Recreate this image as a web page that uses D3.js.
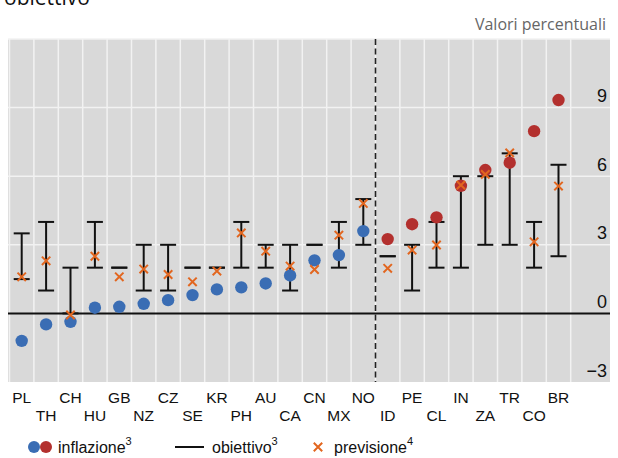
<!DOCTYPE html>
<html><head><meta charset="utf-8">
<script src="https://cdn.jsdelivr.net/npm/d3@7"></script>
<style>body{margin:0;background:#fff}svg{display:block}</style>
</head><body>
<svg id="c" width="618" height="458"></svg>
<script>
const categories = ["PL","TH","CH","HU","GB","NZ","CZ","SE","KR","PH","AU","CA","CN","MX","NO","ID","PE","CL","IN","ZA","TR","CO","BR"];
const advancedCount = 15; // first 15 in blue, rest in red
const inflation = [-1.2,-0.48,-0.37,0.25,0.29,0.42,0.58,0.8,1.05,1.14,1.31,1.66,2.32,2.55,3.6,3.25,3.9,4.2,5.58,6.27,6.59,7.97,9.33];
const targetLow  = [1.5,1,0,2,2,1,1,2,2,2,2,1,3,2,3,2.5,1,2,2,3,3,2,2.5];
const targetHigh = [3.5,4,2,4,2,3,3,2,2,4,3,3,3,4,5,2.5,3,4,6,6,7,4,6.5];
const forecast = [1.6,2.3,-0.07,2.5,1.6,1.94,1.7,1.38,1.85,3.52,2.72,2.07,1.92,3.42,4.81,1.97,2.77,2.99,5.61,6.08,7.02,3.13,5.57];
const yTicks = [-3,0,3,6,9];

(function(){
const svg = d3.select("#c");
const pL = 8, pR = 610, pT = 39, pB = 382;
const slots = categories.concat(["_pad"]);
const x = d3.scaleBand().domain(slots).range([9.5, 9.5 + 24*24.4]).paddingInner(0).paddingOuter(0);
const y = d3.scaleLinear().domain([-3, 12]).range([pB, pT]);
const lf = "Liberation Sans, Arial, sans-serif";

// title remnant (cut off at the top, as in the reference)
svg.append("text").attr("x",4).attr("y",5).attr("font-family","Open Sans, sans-serif")
  .attr("font-size",21).attr("fill","#111").text("obiettivo");
svg.append("text").attr("x",606).attr("y",30).attr("text-anchor","end")
  .attr("font-family","Open Sans, sans-serif").attr("font-size",16).attr("fill","#666").text("Valori percentuali");

// background
svg.append("rect").attr("x",pL).attr("y",pT).attr("width",pR-pL).attr("height",pB-pT).attr("fill","#d9d9d9");
// horizontal grid
[3,6,9,12].forEach(v=>{
  svg.append("line").attr("x1",pL).attr("x2",pR).attr("y1",y(v)).attr("y2",y(v)).attr("stroke","#f2f2f2").attr("stroke-width",1.5);
});
// vertical grid at slot boundaries
slots.forEach((c,i)=>{
  svg.append("line").attr("x1",x(c)).attr("x2",x(c)).attr("y1",pT).attr("y2",pB).attr("stroke","#f2f2f2").attr("stroke-width",1.5);
});
// zero line
svg.append("line").attr("x1",pL).attr("x2",pR).attr("y1",y(0)).attr("y2",y(0)).attr("stroke","#111").attr("stroke-width",2);
// dashed separator
const sepX = x(categories[advancedCount]);
svg.append("line").attr("x1",sepX).attr("x2",sepX).attr("y1",pT).attr("y2",pB)
  .attr("stroke","#222").attr("stroke-width",1.6).attr("stroke-dasharray","6,3.5");

// y tick labels
const yAxis = d3.axisRight(y).tickValues(yTicks).tickSize(0).tickFormat(d=> d<0 ? "\u2212"+Math.abs(d) : d);
const ya = svg.append("g").attr("transform",`translate(${pR-3},0)`).call(yAxis);
ya.select(".domain").remove();
ya.selectAll("text").attr("text-anchor","end").attr("dy",-6).attr("x",0)
  .attr("font-family",lf).attr("font-size",18).attr("fill","#111");

// x labels
const xAxis = d3.axisBottom(x).tickValues(categories).tickSize(0);
const xa = svg.append("g").attr("transform",`translate(0,${pB})`).call(xAxis);
xa.select(".domain").remove();
xa.selectAll("text").attr("y",(d,i)=> i%2===0 ? 21 : 39).attr("dy",0)
  .attr("font-family",lf).attr("font-size",15.5).attr("fill","#111");

const bw = x.bandwidth();
const cx = c => x(c) + bw/2;
// error bars (targets)
const g = svg.append("g");
categories.forEach((c,i)=>{
  const lo = targetLow[i], hi = targetHigh[i];
  if (hi !== lo) g.append("line").attr("x1",cx(c)).attr("x2",cx(c)).attr("y1",y(lo)).attr("y2",y(hi)).attr("stroke","#111").attr("stroke-width",2);
  [lo,hi].forEach(v=>{
    g.append("line").attr("x1",cx(c)-8).attr("x2",cx(c)+8).attr("y1",y(v)).attr("y2",y(v)).attr("stroke","#111").attr("stroke-width",2);
  });
});
// inflation dots
svg.append("g").selectAll("circle").data(categories).join("circle")
  .attr("cx",c=>cx(c)).attr("cy",(c,i)=>y(inflation[i])).attr("r",6.2)
  .attr("fill",(c,i)=> i<advancedCount ? "#3a6db4" : "#b3302e");
// forecast crosses
const s = 4.2;
const fx = svg.append("g").attr("stroke","#e2661f").attr("stroke-width",2);
categories.forEach((c,i)=>{
  const px = cx(c), py = y(forecast[i]);
  fx.append("path").attr("d",`M${px-s},${py-s}L${px+s},${py+s}M${px-s},${py+s}L${px+s},${py-s}`);
});

// legend
const ly = 447;
svg.append("circle").attr("cx",34).attr("cy",ly).attr("r",6).attr("fill","#3a6db4");
svg.append("circle").attr("cx",46).attr("cy",ly).attr("r",6).attr("fill","#b3302e");
const t1 = svg.append("text").attr("x",58).attr("y",ly+6).attr("font-family",lf).attr("font-size",16).attr("fill","#111");
t1.append("tspan").text("inflazione");
t1.append("tspan").attr("dy",-8).attr("font-size",11).text("3");
svg.append("line").attr("x1",175).attr("x2",204).attr("y1",ly).attr("y2",ly).attr("stroke","#111").attr("stroke-width",2);
const t2 = svg.append("text").attr("x",212).attr("y",ly+6).attr("font-family",lf).attr("font-size",16).attr("fill","#111");
t2.append("tspan").text("obiettivo");
t2.append("tspan").attr("dy",-8).attr("font-size",11).text("3");
const lx = 318;
svg.append("path").attr("d",`M${lx-s},${ly-s}L${lx+s},${ly+s}M${lx-s},${ly+s}L${lx+s},${ly-s}`).attr("stroke","#e2661f").attr("stroke-width",2);
const t3 = svg.append("text").attr("x",334).attr("y",ly+6).attr("font-family",lf).attr("font-size",16).attr("fill","#111");
t3.append("tspan").text("previsione");
t3.append("tspan").attr("dy",-8).attr("font-size",11).text("4");
})();
</script>
</body></html>
